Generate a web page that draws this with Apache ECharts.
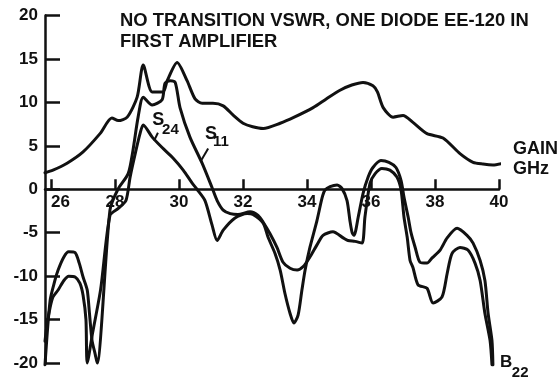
<!DOCTYPE html>
<html><head><meta charset="utf-8">
<script src="https://cdn.jsdelivr.net/npm/echarts@6/dist/echarts.min.js"></script>
<style>html,body{margin:0;padding:0;background:#fff}#c{width:559px;height:380px}</style>
</head><body><div id="c"></div>
<script>
// Axis ticks
const xTicks = [26, 28, 30, 32, 34, 36, 38, 40];
const yTicks = [-20, -15, -10, -5, 0, 5, 10, 15, 20];

// GAIN curve (dB vs GHz)
const gainFreq = [25.81,26.06,26.5,27.0,27.53,27.9,28.1,28.38,28.69,28.88,29.16,29.5,29.63,29.94,30.25,30.5,30.72,31.06,31.38,31.7,32.0,32.3,32.63,33.16,33.6,34.19,34.6,35.03,35.4,35.75,36.06,36.2,36.38,36.69,37.0,37.31,37.75,38.25,38.78,39.19,39.5,39.81,40.13];
const gainDb   = [1.9,2.2,3.0,4.3,6.4,8.2,7.9,8.3,10.6,14.3,11.2,11.2,12.5,14.6,12.5,10.4,9.9,9.9,9.6,8.5,7.6,7.2,7.0,7.6,8.3,9.4,10.4,11.4,12.0,12.3,11.9,11.2,9.4,8.3,8.5,7.7,6.4,5.9,4.1,3.1,2.9,2.8,3.0];

// S11 curve
const s11Freq = [25.81,25.97,26.12,26.22,26.4,26.55,26.75,26.88,27.0,27.13,27.2,27.28,27.38,27.44,27.84,28.09,28.41,28.56,28.72,28.88,29.16,29.47,29.56,29.72,29.88,30.03,30.34,30.72,31.03,31.19,31.38,31.6,31.84,32.22,32.47,32.63,32.84,33.06,33.25,33.47,33.69,33.88,34.09,34.31,34.5,34.81,35.13,35.28,35.5,35.72,35.81,35.97,36.13,36.34,36.59,36.81,36.94,37.03,37.13,37.22,37.31,37.47,37.75,37.94,38.22,38.38,38.53,38.78,39.03,39.25,39.41,39.56,39.72,39.78];
const s11Db   = [-20.2,-12.8,-10.5,-9.3,-7.8,-7.2,-7.3,-8.5,-10.1,-11.6,-14.3,-17.4,-19.0,-20.0,-2.4,0.0,1.8,4.5,8.3,10.6,9.7,10.3,12.2,12.5,12.3,9.4,6.0,3.0,0.2,-1.3,-2.4,-2.8,-2.9,-2.6,-3.0,-3.8,-5.1,-6.7,-8.4,-9.1,-9.3,-8.9,-7.8,-6.4,-5.3,-4.9,-5.6,-5.9,-6.0,-6.2,-3.2,0.7,1.8,2.4,2.2,1.4,-0.1,-3.2,-5.5,-8.2,-9.0,-11.0,-11.4,-13.1,-12.4,-9.7,-7.4,-6.7,-7.0,-8.5,-10.5,-14.3,-17.4,-20.2];

// S24 curve
const s24Freq = [25.81,25.88,25.97,26.06,26.22,26.4,26.55,26.75,26.9,27.0,27.09,27.13,27.3,27.55,27.84,28.1,28.34,28.47,28.63,28.78,28.88,29.16,29.47,29.81,30.13,30.41,30.56,30.81,31.03,31.19,31.38,31.75,32.13,32.31,32.63,32.78,33.0,33.16,33.31,33.47,33.59,33.72,33.84,33.94,34.09,34.31,34.47,34.56,34.72,34.94,35.09,35.25,35.34,35.41,35.47,35.6,35.75,35.91,36.06,36.31,36.56,36.78,36.94,37.03,37.16,37.25,37.38,37.53,37.75,37.91,38.16,38.38,38.69,39.0,39.19,39.41,39.56,39.66,39.78,39.81];
const s24Db   = [-17.5,-15.4,-13.6,-12.4,-11.6,-10.5,-10.0,-10.1,-10.8,-12.2,-15.0,-20.0,-16.5,-11.5,-3.0,-2.2,-1.3,1.4,4.1,6.4,7.4,6.0,4.8,3.6,2.2,0.7,0.0,-1.3,-4.1,-5.9,-4.7,-3.3,-2.8,-2.9,-3.9,-5.5,-7.4,-9.3,-12.0,-14.3,-15.4,-14.5,-11.6,-9.3,-6.7,-3.6,-1.0,-0.1,0.3,0.5,0.1,-1.3,-3.6,-5.0,-5.3,-3.2,-0.5,1.4,2.5,3.3,3.1,2.5,1.0,-0.9,-3.2,-5.0,-6.7,-8.4,-8.5,-7.9,-7.0,-5.6,-4.5,-5.3,-6.2,-8.2,-10.5,-14.3,-17.4,-20.2];

// Text annotations (anchors in data coordinates)
const labelTexts = ['GAIN', 'GHz', 'S', '24', 'S', '11', 'B', '22'];
const labelFreq  = [40.44, 40.44, 29.16, 29.47, 30.81, 31.06, 40.03, 40.4];
const labelDb    = [4.65, 2.3, 8.0, 6.8, 6.3, 5.4, -19.9, -21.1];
const labelSize  = [18, 18, 18, 15, 18, 15, 17, 15];
const leaderFrom = [[29.34, 6.5], [30.91, 4.7]];
const leaderTo   = [[29.22, 5.6], [30.69, 3.3]];

const zip = (a, b) => a.map((v, i) => [v, b[i]]);
const ink = '#111';
const font = '"Liberation Sans", Arial, Helvetica, sans-serif';
const yMin = -20, yMax = 20, gridTop = 15.5, gridBottom = 17, H = 380;

const chart = echarts.init(document.getElementById('c'));
const lineSeries = (name, data) => ({
  name, type: 'line', data, showSymbol: false, smooth: 0.25, clip: false,
  lineStyle: { color: ink, width: 3, cap: 'round', join: 'round' }, silent: true, animation: false
});
// offset that places the x axis (line, ticks, labels) on y = 0
const plotH = H - gridTop - gridBottom;
const zeroOffset = -plotH * (0 - yMin) / (yMax - yMin);

chart.setOption({
  animation: false,
  backgroundColor: '#fff',
  title: {
    text: 'NO TRANSITION VSWR, ONE DIODE EE-120 IN\nFIRST AMPLIFIER',
    left: 115, top: 5,
    textStyle: { fontFamily: font, fontSize: 18.4, fontWeight: 'bold', color: ink, lineHeight: 21.5 }
  },
  grid: { left: 45, right: 60, top: gridTop, bottom: gridBottom },
  xAxis: {
    type: 'value', min: 25.81, max: 40, offset: zeroOffset,
    axisLine: { onZero: false, lineStyle: { color: ink, width: 2.5 } },
    axisTick: { show: true, inside: true, length: 10, lineStyle: { color: ink, width: 2.5 }, customValues: xTicks },
    axisLabel: { customValues: xTicks, margin: 5, fontFamily: font, fontSize: 17, fontWeight: 'bold', color: ink, alignMinLabel: 'left' },
    splitLine: { show: false }
  },
  yAxis: {
    type: 'value', min: yMin, max: yMax, interval: 5,
    axisLine: { show: true, onZero: false, lineStyle: { color: ink, width: 2.5 } },
    axisTick: { show: true, inside: true, length: 15, lineStyle: { color: ink, width: 2.5 } },
    axisLabel: { margin: 7, fontFamily: font, fontSize: 17, fontWeight: 'bold', color: ink },
    splitLine: { show: false }
  },
  series: [
    lineSeries('GAIN', zip(gainFreq, gainDb)),
    lineSeries('S11', zip(s11Freq, s11Db)),
    lineSeries('S24', zip(s24Freq, s24Db))
  ]
});

const px = p => chart.convertToPixel({ gridIndex: 0 }, p);
const graphics = labelTexts.map((t, i) => {
  const p = px([labelFreq[i], labelDb[i]]);
  return {
    type: 'text', x: p[0], y: p[1], silent: true,
    style: { text: t, fontFamily: font, fontSize: labelSize[i], fontWeight: 'bold', fill: ink, align: 'left', verticalAlign: 'middle' }
  };
});
leaderFrom.forEach((f, i) => {
  const a = px(f), b = px(leaderTo[i]);
  graphics.push({ type: 'line', silent: true, shape: { x1: a[0], y1: a[1], x2: b[0], y2: b[1] }, style: { stroke: ink, lineWidth: 2 } });
});
chart.setOption({ graphic: graphics });
</script>
</body></html>
